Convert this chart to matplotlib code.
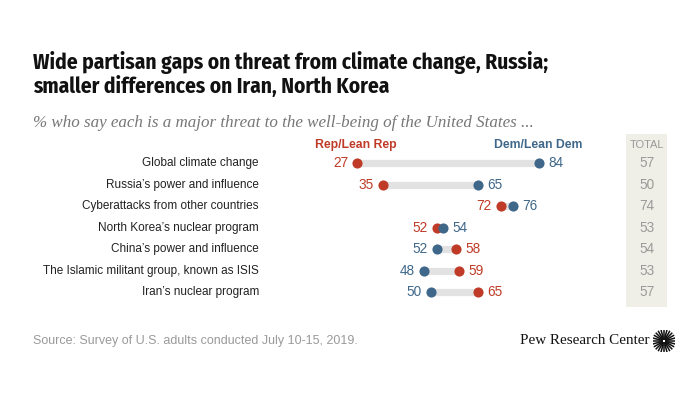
import numpy as np
import matplotlib.pyplot as plt
from matplotlib.patches import Rectangle
from matplotlib.transforms import blended_transform_factory

threats = ['Global climate change', "Russia\u2019s power and influence",
           'Cyberattacks from other countries', "North Korea\u2019s nuclear program",
           "China\u2019s power and influence", 'The Islamic militant group, known as ISIS',
           "Iran\u2019s nuclear program"]
rep = [27, 35, 72, 52, 58, 59, 65]
dem = [84, 65, 76, 54, 52, 48, 50]
total = [57, 50, 74, 53, 54, 53, 57]

RED = '#bf3b27'
BLUE = '#3f6789'
BAR = '#e2e2e2'
GRAY_TXT = '#9a9a9a'
SANS = ['Liberation Sans', 'DejaVu Sans']
COND = ['Fira Sans Condensed', 'Roboto Condensed', 'DejaVu Sans']
SERIF = ['Liberation Serif', 'DejaVu Serif']

W, H = 700, 394
fig = plt.figure(figsize=(W / 100, H / 100), dpi=100)
renderer = fig.canvas.get_renderer()


def fit_width(txt, target_px):
    # scale a text's size so it spans about the width seen in the original
    w = txt.get_window_extent(renderer).width
    txt.set_fontsize(txt.get_fontsize() * target_px / w)
    return txt.get_fontsize()


# axes: x 0..100 mapped to px 271..590, rows at px 163..292
x0, x1 = 271, 590
ytop, ybot = 152.3, 303.0
ax = fig.add_axes([x0 / W, 1 - ybot / H, (x1 - x0) / W, (ybot - ytop) / H])
ax.set_xlim(0, 100)
ax.set_ylim(len(threats) - 0.5, -0.5)
ax.axis('off')

# total column background
trans = blended_transform_factory(ax.transData, fig.transFigure)
ax.add_patch(Rectangle((111.3, 1 - 307 / H), 12.8, (307 - 134) / H,
                       transform=trans, facecolor='#efefe7', edgecolor='none',
                       zorder=-1, clip_on=False))

for i in range(len(threats)):
    r, d = rep[i], dem[i]
    ax.plot([r, d], [i, i], color=BAR, lw=5.2, solid_capstyle='butt', zorder=1)
    ax.plot(r, i, 'o', color=RED, ms=7.3, mec='none', zorder=3)
    ax.plot(d, i, 'o', color=BLUE, ms=7.3, mec='none', zorder=3)
    lo_is_rep = r < d
    left_v, right_v = (r, d) if lo_is_rep else (d, r)
    left_c, right_c = (RED, BLUE) if lo_is_rep else (BLUE, RED)
    ax.annotate(str(left_v), (left_v, i), xytext=(-6.5, 0), textcoords='offset points',
                ha='right', va='center', color=left_c, fontsize=9.8, family=SANS)
    ax.annotate(str(right_v), (right_v, i), xytext=(6.5, 0), textcoords='offset points',
                ha='left', va='center', color=right_c, fontsize=9.8, family=SANS)
    ax.text(-3.8, i, threats[i], ha='right', va='center', fontsize=8.5,
            family=SANS, color='#222222')
    ax.text(117.8, i, str(total[i]), ha='center', va='center', fontsize=9.8,
            family=SANS, color=GRAY_TXT, zorder=4)

# column headers
ax.text(26.5, -0.82, 'Rep/Lean Rep', ha='center', va='center', color=RED,
        fontsize=8.8, fontweight='bold', family=SANS)
ax.text(83.7, -0.82, 'Dem/Lean Dem', ha='center', va='center', color=BLUE,
        fontsize=8.8, fontweight='bold', family=SANS)
ax.text(117.8, -0.82, 'TOTAL', ha='center', va='center', color=GRAY_TXT,
        fontsize=8, family=SANS, zorder=4)

# titles, first line sized to span the same width as the original
t1 = fig.text(33 / W, 1 - 62 / H, 'Wide partisan gaps on threat from climate change, Russia;',
              fontsize=14, fontweight='bold', family=COND,
              va='center', ha='left', color='#111111')
t2 = fig.text(33 / W, 1 - 86 / H, 'smaller differences on Iran, North Korea',
              fontsize=14, fontweight='bold', family=COND,
              va='center', ha='left', color='#111111')
t2.set_fontsize(fit_width(t1, 516))

sub = fig.text(33 / W, 1 - 123 / H,
               '% who say each is a major threat to the well-being of the United States ...',
               fontsize=11, style='italic', family=SERIF,
               va='center', ha='left', color='#777777')
fit_width(sub, 500)

src = fig.text(33 / W, 1 - 341 / H, 'Source: Survey of U.S. adults conducted July 10-15, 2019.',
               fontsize=9, family=SANS, va='center', ha='left', color=GRAY_TXT)
fit_width(src, 325)
fig.text(649 / W, 1 - 341 / H, 'Pew Research Center', fontsize=10.9,
         family=SERIF, va='center', ha='right', color='#111111')

# logo sunburst
lax = fig.add_axes([653 / W, 1 - 352 / H, 22 / W, 22 / H])
lax.set_xlim(-1, 1)
lax.set_ylim(-1, 1)
lax.axis('off')
for a in np.linspace(0, 2 * np.pi, 24, endpoint=False):
    lax.plot([0.2 * np.cos(a), np.cos(a)], [0.2 * np.sin(a), np.sin(a)],
             color='#111111', lw=1.1)

fig.savefig('out.png', dpi=100)
